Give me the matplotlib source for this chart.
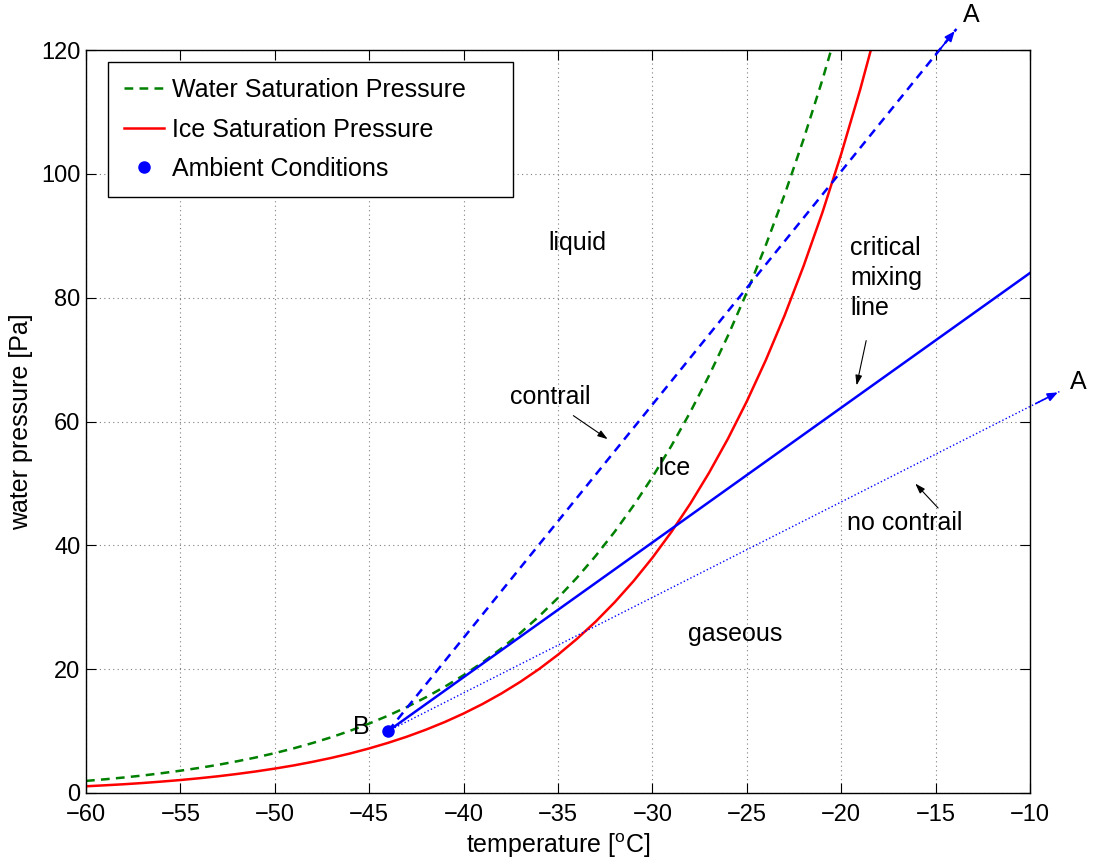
import numpy as np
import matplotlib
matplotlib.use('Agg')
import matplotlib.pyplot as plt

plt.rcParams['font.family'] = ['Liberation Sans', 'DejaVu Sans']
plt.rcParams['mathtext.fontset'] = 'custom'
plt.rcParams['mathtext.rm'] = 'Liberation Sans'
plt.rcParams['mathtext.it'] = 'Liberation Sans'

# saturation curves, 1 degC steps
temp = list(range(-60, -17))
water_sat = [1.95, 2.21, 2.50, 2.82, 3.19, 3.60, 4.05, 4.55, 5.12, 5.74, 6.44, 7.21, 8.07, 9.01,
             10.06, 11.22, 12.49, 13.90, 15.45, 17.16, 19.03, 21.09, 23.35, 25.83, 28.55, 31.52,
             34.77, 38.32, 42.20, 46.43, 51.03, 56.05, 61.50, 67.43, 73.87, 80.86, 88.45, 96.66,
             105.56, 115.18, 125.59, 136.83, 148.97]
ice_sat = [1.08, 1.24, 1.41, 1.61, 1.84, 2.09, 2.38, 2.70, 3.07, 3.48, 3.94, 4.45, 5.03, 5.67,
           6.39, 7.20, 8.10, 9.10, 10.22, 11.46, 12.84, 14.37, 16.07, 17.95, 20.03, 22.34, 24.89,
           27.70, 30.81, 34.23, 38.00, 42.15, 46.71, 51.73, 57.23, 63.27, 69.89, 77.14, 85.08,
           93.75, 103.24, 113.60, 124.90]

# ambient point B and the end points of the three mixing lines
point_b = (-44, 10)
contrail_end = (-13.9, 123.4)
critical_end = (-10, 84)
no_contrail_end = (-8.4, 64.9)

fig = plt.figure(figsize=(10.97, 8.64), dpi=100)
ax = fig.add_axes([0.0784, 0.0822, 0.8606, 0.8599])

lw = 1.8
ax.plot(temp, water_sat, '--', color=(0, 0.5, 0), lw=lw, dashes=(3.5, 2.5), label='Water Saturation Pressure')
ax.plot(temp, ice_sat, '-', color='r', lw=lw, label='Ice Saturation Pressure')
ax.plot(*point_b, 'o', color='b', ms=8, label='Ambient Conditions', zorder=5)

# contrail (dashed), critical (solid), no contrail (dotted)
ax.plot([point_b[0], contrail_end[0]], [point_b[1], contrail_end[1]], '--', color='b',
        lw=lw, dashes=(3.5, 2.5), clip_on=False)
ax.plot([point_b[0], critical_end[0]], [point_b[1], critical_end[1]], '-', color='b', lw=lw)
ax.plot([point_b[0], no_contrail_end[0]], [point_b[1], no_contrail_end[1]], ':', color='b',
        lw=1.0, clip_on=False)

# arrow heads at the A ends
for end in [contrail_end, no_contrail_end]:
    dx = end[0] - point_b[0]
    dy = end[1] - point_b[1]
    ax.annotate('', xy=end, xytext=(end[0] - dx * 0.04, end[1] - dy * 0.04),
                arrowprops=dict(arrowstyle='-|>,head_length=0.6,head_width=0.25', color='b', lw=1.2),
                annotation_clip=False)

fs = 18
ax.text(-13.1, 125.7, 'A', fontsize=fs, ha='center', va='center', clip_on=False)
ax.text(-7.45, 66.4, 'A', fontsize=fs, ha='center', va='center', clip_on=False)
ax.text(-45.4, 10.7, 'B', fontsize=fs, ha='center', va='center')
ax.text(-34.0, 88.9, 'liquid', fontsize=fs, ha='center', va='center')
ax.text(-28.86, 52.5, 'Ice', fontsize=fs, ha='center', va='center')
ax.text(-25.6, 25.7, 'gaseous', fontsize=fs, ha='center', va='center')

arrow = dict(arrowstyle='-|>,head_length=0.6,head_width=0.2', color='k', lw=0.8)
ax.text(-35.39, 64.0, 'contrail', fontsize=fs, ha='center', va='center')
ax.annotate('', xy=(-32.25, 56.9), xytext=(-34.31, 61.2), arrowprops=arrow)
ax.text(-19.53, 83.2, 'critical\nmixing\nline', fontsize=fs, ha='left', va='center', linespacing=1.3)
ax.annotate('', xy=(-19.22, 65.4), xytext=(-18.65, 73.5), arrowprops=arrow)
ax.text(-19.71, 43.6, 'no contrail', fontsize=fs, ha='left', va='center')
ax.annotate('', xy=(-16.18, 50.3), xytext=(-14.77, 45.7), arrowprops=arrow)

ax.set_xlim(-60, -10)
ax.set_ylim(0, 120)
ax.set_xticks(np.arange(-60, -9, 5))
ax.set_yticks(np.arange(0, 121, 20))
ax.tick_params(direction='in', top=True, right=True, labelsize=17, length=7)
ax.tick_params(axis='x', pad=8)
ax.tick_params(axis='y', pad=4)
ax.grid(True, linestyle=(0, (1, 3)), color='0.5', lw=0.8)
for s in ax.spines.values():
    s.set_linewidth(1.0)
ax.set_xlabel('temperature [$^{\\mathrm{o}}$C]', fontsize=fs, labelpad=4)
ax.set_ylabel('water pressure [Pa]', fontsize=fs, labelpad=6)

leg = ax.legend(loc='upper left', mode='expand', fontsize=fs, fancybox=False, edgecolor='k',
                framealpha=1, handlelength=1.6, handletextpad=0.3, borderpad=0.65,
                labelspacing=0.62, borderaxespad=0,
                bbox_to_anchor=(0.0233, 0.0, 0.429, 0.984))
leg.get_frame().set_linewidth(1.0)

fig.savefig('out.png', dpi=100)
